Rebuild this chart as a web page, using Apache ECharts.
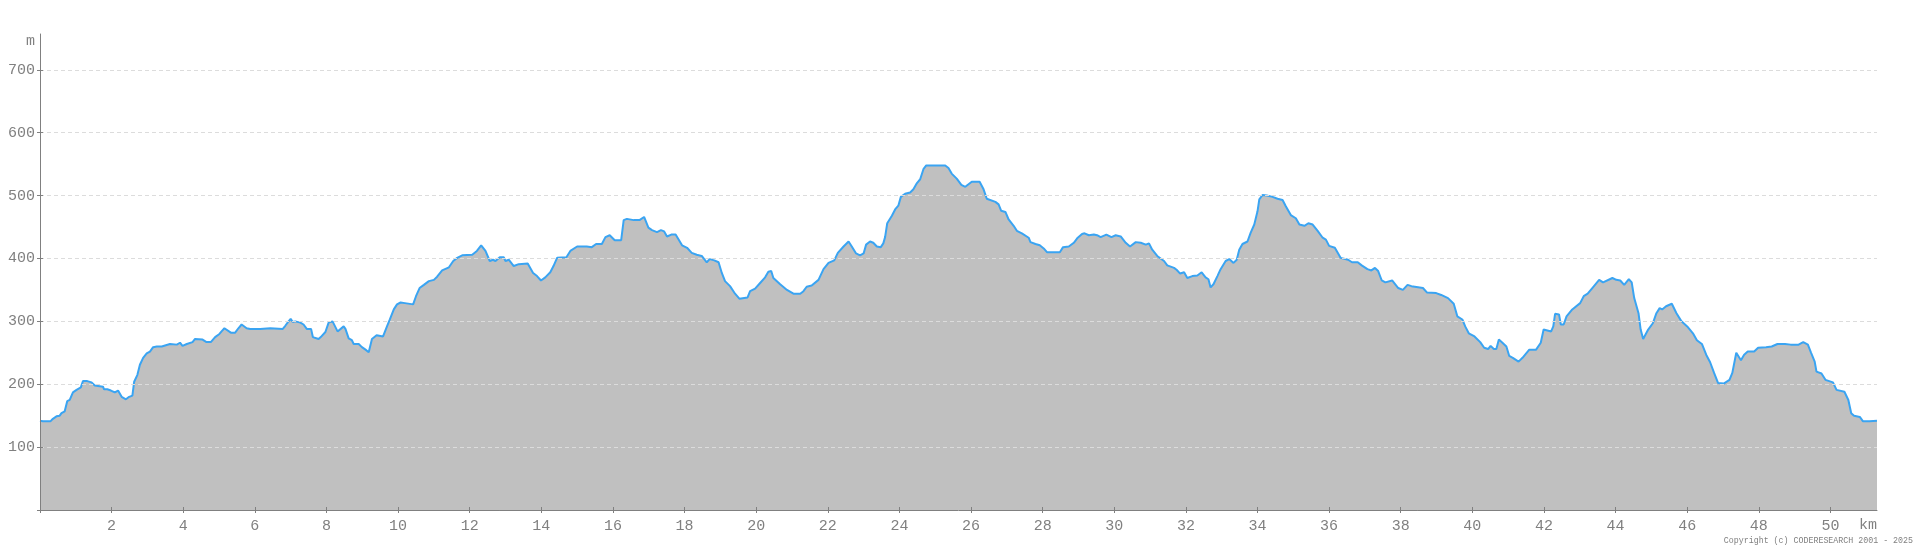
<!DOCTYPE html>
<html>
<head>
<meta charset="utf-8">
<script src="https://cdn.jsdelivr.net/npm/echarts@6/dist/echarts.min.js"></script>
<style>
html,body{margin:0;padding:0;background:#fff;}
#chart{width:1920px;height:549px;}
</style>
</head>
<body>
<div id="chart"></div>
<script>
const distKm = [0,0.08,0.29,0.36,0.46,0.55,0.6,0.69,0.76,0.83,0.92,1.02,1.14,1.2,1.32,1.44,1.53,1.76,1.79,1.88,1.92,1.98,2.09,2.18,2.28,2.4,2.49,2.58,2.63,2.72,2.79,2.88,2.98,3.07,3.16,3.26,3.4,3.44,3.63,3.67,3.82,3.91,3.98,4.1,4.14,4.26,4.33,4.54,4.65,4.77,4.89,5.01,5.07,5.15,5.33,5.45,5.54,5.63,5.77,5.87,6.15,6.19,6.43,6.47,6.78,6.85,6.94,7.0,7.06,7.13,7.17,7.27,7.36,7.45,7.57,7.62,7.78,7.84,7.97,8.06,8.17,8.31,8.48,8.53,8.62,8.71,8.76,8.9,8.99,9.09,9.18,9.27,9.4,9.58,9.69,9.77,9.88,9.97,10.07,10.19,10.23,10.42,10.5,10.6,10.72,10.86,11.0,11.09,11.23,11.42,11.54,11.65,11.79,12.07,
12.11,12.2,12.32,12.44,12.56,12.65,12.72,12.84,12.95,13.0,13.09,13.23,13.37,13.62,13.77,13.88,13.99,14.11,14.25,14.34,14.44,14.7,14.81,15.0,15.27,15.41,15.53,15.69,15.79,15.91,16.05,16.23,16.3,16.39,16.58,16.74,16.87,16.99,17.09,17.23,17.34,17.43,17.51,17.63,17.75,17.93,18.07,18.2,18.34,18.48,18.62,18.7,18.83,18.95,19.04,19.13,19.27,19.41,19.53,19.76,19.83,19.97,20.11,20.25,20.34,20.42,20.48,20.67,20.86,21.04,21.23,21.32,21.41,21.55,21.74,21.88,22.02,22.18,22.28,22.44,22.58,22.67,22.79,22.9,23.0,23.07,23.18,23.27,23.37,23.48,23.55,
23.6,23.66,23.79,23.88,23.97,24.04,24.16,24.3,24.39,24.49,24.58,24.67,24.75,25.28,25.37,25.46,25.6,25.73,25.84,25.93,26.02,26.24,26.35,26.44,26.68,26.77,26.84,26.96,27.05,27.19,27.28,27.42,27.61,27.66,27.8,27.92,28.03,28.12,28.48,28.57,28.73,28.87,28.98,29.1,29.17,29.29,29.43,29.52,29.62,29.78,29.92,30.04,30.18,30.32,30.44,30.6,30.74,30.88,30.97,31.06,31.2,31.39,31.48,31.67,31.74,31.84,31.95,32.04,32.18,32.32,32.44,32.55,32.63,32.69,32.77,32.88,32.97,33.11,33.21,33.33,33.42,33.49,33.58,33.72,33.81,33.91,34.0,34.05,34.14,34.26,34.42,34.56,34.7,34.79,34.93,35.07,35.17,35.31,35.42,35.54,35.68,35.82,35.91,
36.0,36.16,36.32,36.53,36.64,36.8,36.91,37.07,37.18,37.28,37.37,37.47,37.57,37.76,37.93,38.06,38.19,38.3,38.62,38.73,38.99,39.13,39.32,39.48,39.58,39.72,39.8,39.9,40.06,40.22,40.33,40.44,40.51,40.6,40.67,40.74,40.84,40.95,41.03,41.13,41.29,41.4,41.59,41.78,41.91,41.99,42.04,42.2,42.26,42.31,42.42,42.47,42.55,42.63,42.79,43.01,43.11,43.22,43.35,43.54,43.65,43.91,44.02,44.13,44.24,44.29,44.37,44.45,44.52,44.64,44.7,44.77,44.82,44.91,45.04,45.14,45.23,45.3,45.41,45.57,45.7,45.84,46.0,46.16,46.27,46.41,46.53,46.64,46.75,46.86,47.02,47.18,47.26,47.37,47.41,47.5,47.59,47.69,47.87,47.98,48.2,48.36,48.52,48.73,48.89,49.11,49.24,49.37,49.46,49.56,49.61,49.75,49.86,50.07,50.17,50.39,50.5,50.58,50.66,50.82,50.91,51.09,51.13,51.3];

const elevM = [142,141,141,145,149,150,154,157,173,175,187,191,195,205,205,203,198,196,192,192,193,190,187,190,180,176,180,182,204,215,231,242,249,252,259,260,260,263,264,267,263,266,261,264,267,267,272,271,267,267,275,280,284,289,282,282,289,295,289,288,288,289,289,288,288,293,300,304,299,300,303,298,295,288,288,275,272,275,283,298,300,284,292,288,273,270,264,264,259,255,251,272,278,276,292,303,319,327,330,329,327,327,340,353,358,364,366,371,381,386,396,401,405,406,
407,412,421,412,396,398,396,402,402,396,398,388,391,392,377,372,365,370,378,388,401,402,412,419,419,418,423,423,434,437,429,429,461,463,461,461,466,449,445,442,445,443,435,438,438,421,417,409,406,404,394,399,397,394,377,364,356,344,336,338,348,352,361,370,379,380,369,359,350,344,344,348,355,357,366,383,393,397,409,419,427,419,408,405,408,422,427,425,419,418,424,
434,456,468,478,484,498,503,505,510,520,526,542,548,548,544,535,527,517,514,518,522,522,510,495,490,486,476,474,462,452,444,440,433,426,423,421,416,410,410,418,419,425,433,439,440,437,438,437,434,438,434,437,435,425,419,426,425,422,424,414,404,396,389,385,382,376,378,369,372,373,378,370,367,354,359,372,383,396,399,393,398,414,423,427,441,454,475,494,501,500,498,495,493,483,469,464,454,452,456,454,444,433,430,
420,417,401,398,394,394,389,383,381,385,380,365,362,365,353,350,358,356,353,346,345,342,337,328,308,303,292,281,276,267,258,256,261,256,256,271,266,260,245,242,236,242,255,255,266,287,288,284,292,312,311,295,295,308,319,329,340,344,353,366,362,369,366,365,358,358,367,362,337,313,287,272,271,287,297,313,321,319,324,328,313,300,292,281,270,264,247,235,218,202,201,207,218,250,251,238,247,252,252,258,259,260,264,264,263,263,267,263,250,236,220,217,207,203,191,188,175,154,150,148,141,141,142,142];

// Tick values and axis ranges
const xTicks = [0,2,4,6,8,10,12,14,16,18,20,22,24,26,28,30,32,34,36,38,40,42,44,46,48,50];
const yTicks = [0,100,200,300,400,500,600,700];
const xTickStep = 2;
const yTickStep = 100;
const xMax = 51.3;
const yMax = 757;
const xUnit = 'km';
const yUnit = 'm';
const copyright = 'Copyright (c) CODERESEARCH 2001 - 2025';

const points = distKm.map((d, i) => [d, elevM[i]]);
const FONT = '"Liberation Mono","DejaVu Sans Mono",monospace';
const GRAY = '#808080';
const labelStyle = {color: GRAY, fontFamily: FONT, fontSize: 15, fontWeight: 'normal'};

function xAxisDef(main) {
  return {
    type: 'value', min: 0, max: xMax, interval: xTickStep, z: 3, position: 'bottom', offset: 0,
    name: main ? xUnit : '', nameLocation: 'end', nameGap: 0,
    nameTextStyle: Object.assign({}, labelStyle, {align: 'right', verticalAlign: 'top', padding: [8, 0, 0, 0]}),
    axisLine: {show: main, lineStyle: {color: GRAY, width: 1}},
    axisTick: {show: true, customValues: xTicks, inside: !main, length: 3, lineStyle: {color: GRAY}},
    axisLabel: Object.assign({show: main, margin: 9, customValues: xTicks.filter(v => v > 0)}, labelStyle),
    splitLine: {show: false}
  };
}
function yAxisDef(main) {
  return {
    type: 'value', min: 0, max: yMax, interval: yTickStep, z: 3, position: 'left', offset: 0,
    name: main ? yUnit : '', nameLocation: 'end', nameGap: -7,
    nameTextStyle: Object.assign({}, labelStyle, {align: 'right', verticalAlign: 'middle', padding: [0, 5, 0, 0]}),
    axisLine: {show: main, lineStyle: {color: GRAY, width: 1}},
    axisTick: {show: true, customValues: yTicks, inside: !main, length: 3, lineStyle: {color: GRAY}},
    axisLabel: Object.assign({show: main, margin: 5, customValues: yTicks.filter(v => v > 0)}, labelStyle),
    splitLine: {show: main, showMinLine: false, showMaxLine: true, lineStyle: {color: '#dcdcdc', type: [4, 3], width: 1}}
  };
}

const chart = echarts.init(document.getElementById('chart'), null, {renderer: 'canvas'});
chart.setOption({
  animation: false,
  backgroundColor: '#ffffff',
  grid: {left: 40, right: 43, top: 34, bottom: 39, containLabel: false},
  xAxis: [xAxisDef(true), xAxisDef(false)],
  yAxis: [yAxisDef(true), yAxisDef(false)],
  series: [{
    type: 'line',
    xAxisIndex: 0, yAxisIndex: 0,
    data: points,
    symbol: 'none',
    smooth: false,
    z: 2,
    lineStyle: {color: '#3aa4f2', width: 2},
    areaStyle: {color: '#c0c0c0', opacity: 1, origin: 'start'}
  }],
  graphic: [{
    type: 'text', right: 7, bottom: 4,
    style: {text: copyright, fill: GRAY, font: '8.3px ' + FONT}
  }]
});
</script>
</body>
</html>
